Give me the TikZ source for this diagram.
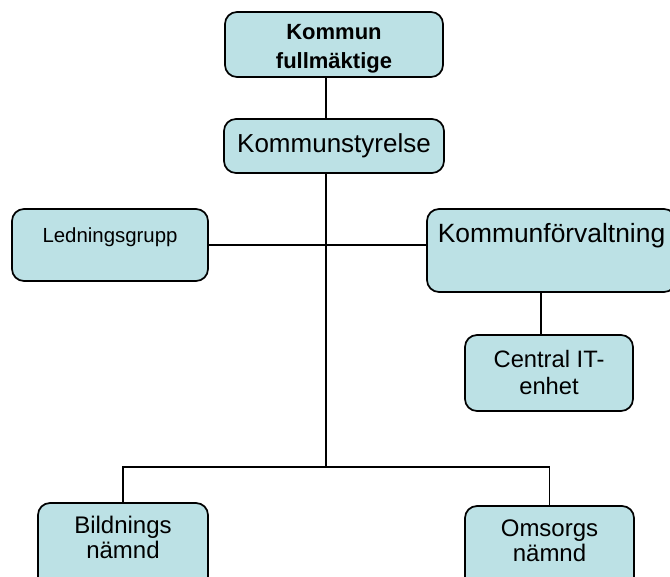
\documentclass[tikz,border=0pt]{standalone}
\usepackage{fontspec}
\setmainfont{Liberation Sans}
\tikzset{
  orgbox/.style={draw, line width=1.3, rounded corners=9pt, fill={rgb, 255:red, 188; green, 225; blue, 229}, align=center, inner sep=0pt},
  orgline/.style={line width=1.1}
}
\begin{document}
\begin{tikzpicture}[x=0.75pt,y=0.75pt,yscale=-1,xscale=1]
\useasboundingbox (0,0) rectangle (670,576);
\clip (0,0) rectangle (670,576);

%Shape: Rectangle [fullmaktige]
\draw (334,44.5) node (fullm) [orgbox, minimum width=163.5pt, minimum height=48.75pt, font=\fontsize{16.5}{22}\selectfont\bfseries] {\rule{0pt}{17.5pt}Kommun\\fullmäktige};
%Shape: Rectangle [styrelse]
\draw (334,146) node (styr) [orgbox, minimum width=165pt, minimum height=40.5pt, font=\fontsize{19.5}{23}\selectfont] {Kommunstyrelse};
%Shape: Rectangle [ledning]
\draw (110,245) node (ledn) [orgbox, minimum width=147pt, minimum height=54pt, font=\fontsize{15.3}{15}\selectfont] {Ledningsgrupp\\~};
%Shape: Rectangle [forvaltning]
\draw (551.5,250.5) node (forv) [orgbox, minimum width=186.75pt, minimum height=62.25pt, font=\fontsize{19.8}{26}\selectfont] {Kommunförvaltning\\~};
%Shape: Rectangle [it]
\draw (549,373) node (it) [orgbox, minimum width=126pt, minimum height=57pt, font=\fontsize{17.8}{20.25}\selectfont] {Central IT-\\enhet};
%Shape: Rectangle [bildning]
\draw (123,546.5) node (bild) [orgbox, minimum width=127.5pt, minimum height=65.25pt, font=\fontsize{18}{18.75}\selectfont] {Bildnings\\nämnd\rule[-13.5pt]{0pt}{13.5pt}};
%Shape: Rectangle [omsorg]
\draw (549.5,548) node (oms) [orgbox, minimum width=126.75pt, minimum height=63pt, font=\fontsize{18}{18.75}\selectfont] {Omsorgs\\nämnd\rule[-10.5pt]{0pt}{10.5pt}};

\coordinate (spine) at (326,467);

%Straight Lines
\draw [orgline] (fullm.south -| spine) -- (styr.north -| spine);
\draw [orgline] (styr.south -| spine) -- (spine);
\draw [orgline] (ledn.east) -- (ledn.east -| forv.west);
\draw [orgline] ([xshift=-6pt]it.north) -- ([xshift=-6pt]it.north |- forv.south);
\draw [orgline] (bild.north) |- (spine) -| (oms.north);

\end{tikzpicture}
\end{document}
